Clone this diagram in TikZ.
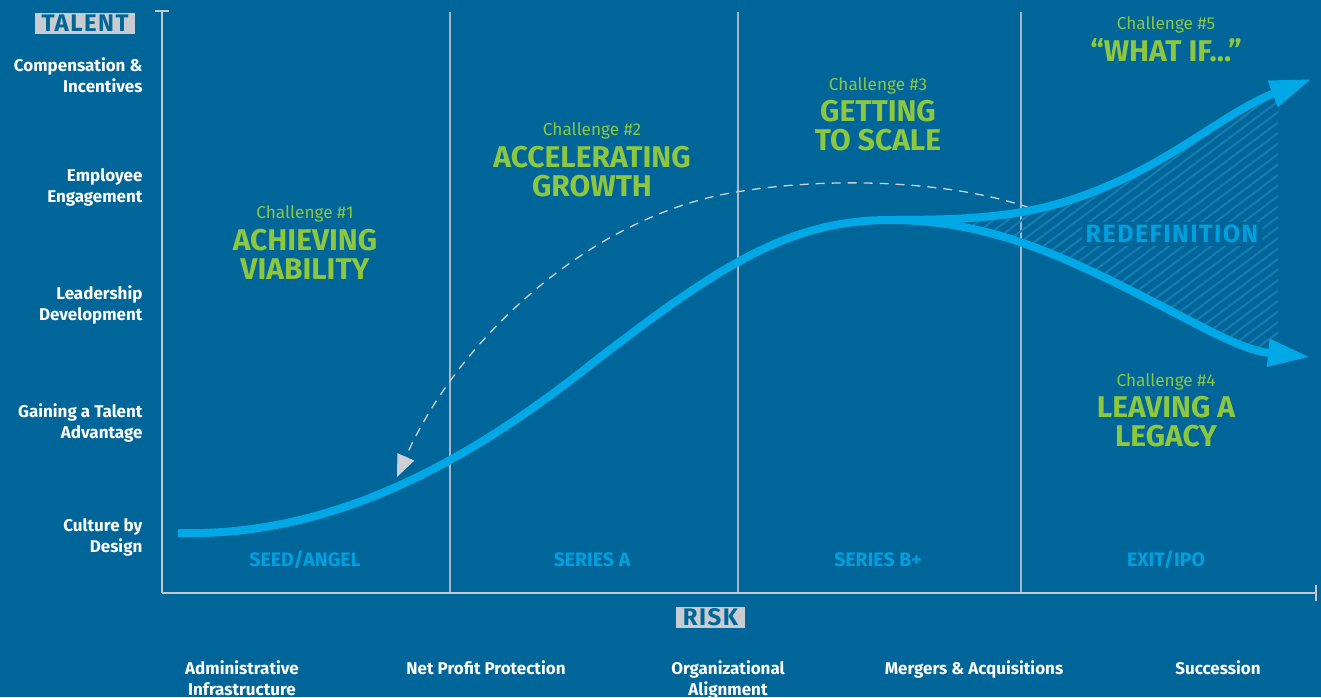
\documentclass[tikz,border=0pt]{standalone}
\usepackage{fontspec}
\setmainfont{Fira Sans}
\usetikzlibrary{arrows.meta}
\definecolor{bg}{RGB}{0,102,153}
\definecolor{curveblue}{RGB}{0,169,230}
\definecolor{stageblue}{RGB}{0,160,222}
\definecolor{chgreen}{RGB}{141,198,63}
\definecolor{boxgray}{RGB}{200,203,208}
\definecolor{axisgray}{RGB}{195,200,205}
\definecolor{divgray}{RGB}{165,182,198}
\definecolor{hatchblue}{RGB}{25,124,177}
\definecolor{dashgray}{RGB}{205,208,212}
\tikzset{
  axisline/.style={draw=axisgray, line width=2.5pt},
  divider/.style={draw=divgray, line width=1.5pt},
  ylab/.style={anchor=east, align=right, text=white, font=\fontsize{17}{21}\selectfont\bfseries},
  xlab/.style={anchor=north, align=center, text=white, font=\fontsize{17}{21}\selectfont\bfseries},
  axtitle/.style={fill=boxgray, text=bg, inner xsep=7pt, inner ysep=2pt, font=\fontsize{24}{24}\selectfont\bfseries\addfontfeature{LetterSpace=6}},
  stagelab/.style={text=stageblue, font=\fontsize{19.5}{20}\selectfont\bfseries},
  chsmall/.style={text=chgreen, font=\fontsize{17.2}{18}\selectfont},
  chbig/.style={text=chgreen, align=center, font=\fontsize{30}{29}\selectfont\bfseries},
  growth/.style={draw=curveblue, line width=8pt, -{Triangle[length=42pt,width=26pt]}},
  hatchline/.style={draw=hatchblue, line width=2pt},
  dasharc/.style={draw=dashgray, line width=1.3pt, dash pattern=on 9pt off 7pt, -{Triangle[length=22pt,width=18pt]}}
}
\begin{document}
\begin{tikzpicture}[x=1pt,y=-1pt]
\fill[bg] (0,0) rectangle (1321,697);
\useasboundingbox (0,0) rectangle (1321,697);

% axes
\coordinate (O) at (162,593);
\coordinate (Ytop) at (162,11);
\coordinate (Xend) at (1316,593);
\foreach \x/\n in {450/d1,738/d2,1021/d3}{
  \coordinate (\n t) at (\x,12);
  \coordinate (\n b) at (\x,593);
  \draw[divider] (\n t) -- (\n b);
}
\draw[axisline] (O) -- (Ytop);
\draw[axisline] ([xshift=-7pt]Ytop) -- ([xshift=7pt]Ytop);
\draw[axisline] (O) -- (Xend);
\draw[axisline] ([yshift=-8pt]Xend) -- ([yshift=8pt]Xend);

% hatched redefinition area
\begin{scope}
\clip (880,60) rectangle (1278,400);
\clip (890,220) .. controls (990,220) and (1040,215) .. (1110,185)
  .. controls (1180,155) and (1230,110) .. (1312,79)
  -- (1310,357) .. controls (1240,350) and (1200,325) .. (1130,290)
  .. controls (1050,250) and (980,220) .. (890,220) -- cycle;
\foreach \i in {0,...,55}{
  \draw[hatchline] (560+\i*14,430) -- ++(480,-360);
}
\end{scope}

% dashed return arc
\coordinate (dstart) at (1030,208);
\coordinate (dend) at (397,477);
\draw[dasharc] (dstart) .. controls (950,180) and (820,175) .. (720,195)
  .. controls (580,225) and (455,345) .. (dend);

% growth curves
\coordinate (start) at (178,533);
\coordinate (peak) at (890,220);
\coordinate (uptip) at (1312,79);
\coordinate (lowtip) at (1310,357);
\draw[growth] (start) .. controls (330,537) and (465,465) .. (594,362)
  .. controls (720,265) and (790,220) .. (peak)
  .. controls (990,220) and (1040,215) .. (1110,185)
  .. controls (1180,155) and (1230,110) .. (uptip);
\draw[growth] (peak) .. controls (980,220) and (1050,250) .. (1130,290)
  .. controls (1200,325) and (1240,350) .. (lowtip);

\node[fill=bg, text=stageblue, inner xsep=4pt, inner ysep=3pt, font=\fontsize{25}{25}\selectfont\bfseries\addfontfeature{LetterSpace=6}] (redef) at (1172,234) {REDEFINITION};

% axis titles
\node[axtitle] (talent) at (85,23.5) {TALENT};
\node[axtitle] (risk) at (710.5,617.5) {RISK};

% y labels
\node[ylab] (y1) at (146,75) {Compensation \&\\Incentives};
\node[ylab] (y2) at (146,187) {Employee\\Engagement};
\node[ylab] (y3) at (146,305) {Leadership\\Development};
\node[ylab] (y4) at (146,423) {Gaining a Talent\\Advantage};
\node[ylab] (y5) at (146,537) {Culture by\\Design};

% x labels
\node[xlab] (x1) at (242,657) {Administrative\\Infrastructure};
\node[xlab] (x2) at (486,657) {Net Profit Protection};
\node[xlab] (x3) at (728,657) {Organizational\\Alignment};
\node[xlab] (x4) at (974,657) {Mergers \& Acquisitions};
\node[xlab] (x5) at (1218,657) {Succession};

% stages
\node[stagelab] (s1) at (305,560) {SEED/ANGEL};
\node[stagelab] (s2) at (592,560) {SERIES A};
\node[stagelab] (s3) at (878,560) {SERIES B+};
\node[stagelab] (s4) at (1166,560) {EXIT/IPO};

% challenges
\node[chsmall] (c1s) at (305,214) {Challenge \#1};
\node[chbig] (c1) at (305,254) {ACHIEVING\\VIABILITY};
\node[chsmall] (c2s) at (592,131) {Challenge \#2};
\node[chbig] (c2) at (592,172) {ACCELERATING\\GROWTH};
\node[chsmall] (c3s) at (878,86) {Challenge \#3};
\node[chbig] (c3) at (878,126) {GETTING\\TO SCALE};
\node[chsmall] (c5s) at (1166,25) {Challenge \#5};
\node[chbig] (c5) at (1166,50) {“WHAT IF...”};
\node[chsmall] (c4s) at (1166,382) {Challenge \#4};
\node[chbig] (c4) at (1166,422) {LEAVING A\\LEGACY};
\end{tikzpicture}
\end{document}
